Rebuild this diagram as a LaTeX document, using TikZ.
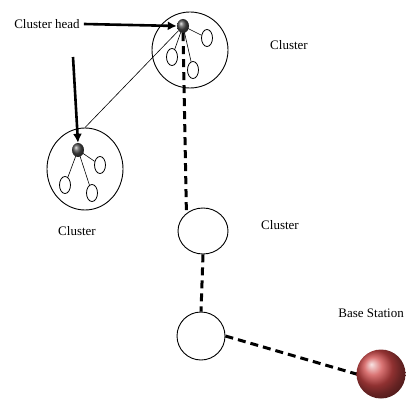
\documentclass[tikz,border=0pt]{standalone}
\usepackage{fontspec}
\setmainfont{Liberation Serif}
\usetikzlibrary{arrows.meta,shapes.geometric}
\begin{document}
\begin{tikzpicture}[x=1pt,y=-1pt,
  cluster/.style={draw, ellipse, line width=0.9pt, inner sep=0},
  member/.style={draw, ellipse, line width=0.8pt, minimum width=11pt, minimum height=17pt, inner sep=0},
  headdot/.style={ellipse, minimum width=12pt, minimum height=14pt, inner sep=0, shading=ball, ball color=black!70},
  txt/.style={font=\fontsize{13}{15}\selectfont, inner sep=0},
  link/.style={line width=0.6pt},
  pointer/.style={line width=2.6pt, -{Latex[length=9pt,width=9pt]}},
  hop/.style={line width=3pt, dash pattern=on 8pt off 5pt},
]
\useasboundingbox (0,0) rectangle (406,398);

% upper cluster
\node[cluster, minimum width=76pt, minimum height=76pt] (tclu) at (190,50) {};
\node[member] (t1) at (207,38) {};
\node[member] (t2) at (172,57) {};
\node[member] (t3) at (193,70) {};
\draw[link] (183,26) -- (t1) (183,26) -- (t2) (183,26) -- (t3);
\node[headdot] (thead) at (183,26) {};

% left cluster
\node[cluster, minimum width=76pt, minimum height=82pt] (lclu) at (85,169) {};
\node[member] (l1) at (100,165) {};
\node[member] (l2) at (65,185) {};
\node[member] (l3) at (92,193) {};
\draw[link] (78,150) -- (l1) (78,150) -- (l2) (78,150) -- (l3);
\node[headdot] (lhead) at (78,150) {};

% relay clusters and base station
\node[cluster, minimum width=50pt, minimum height=46pt] (mid) at (203,231) {};
\node[cluster, minimum width=48pt, minimum height=48pt] (low) at (201,336) {};
\node[circle, minimum size=49pt, inner sep=0, shading=ball,
      ball color={rgb,255:red,205;green,70;blue,70}] (base) at (381,374) {};

% labels
\node[txt] (chlabel) at (47,24) {Cluster head};
\node[txt] (tlabel) at (289,45) {Cluster};
\node[txt] (llabel) at (77,231) {Cluster};
\node[txt] (mlabel) at (280,225) {Cluster};
\node[txt, anchor=east] (blabel) at (404,313) {Base Station};

% connectors
\coordinate (arrowtop) at (73,57);
\draw[pointer] (chlabel.east) ++(4pt,0) -- (thead.west);
\draw[pointer] (arrowtop) -- (lhead.north);
\draw[link] (thead) -- (lclu.north);
\draw[hop] (thead.south) -- (mid.133);
\draw[hop] (mid.south) -- (low.north);
\draw[hop] (low.east) -- (base.west);
\end{tikzpicture}
\end{document}
